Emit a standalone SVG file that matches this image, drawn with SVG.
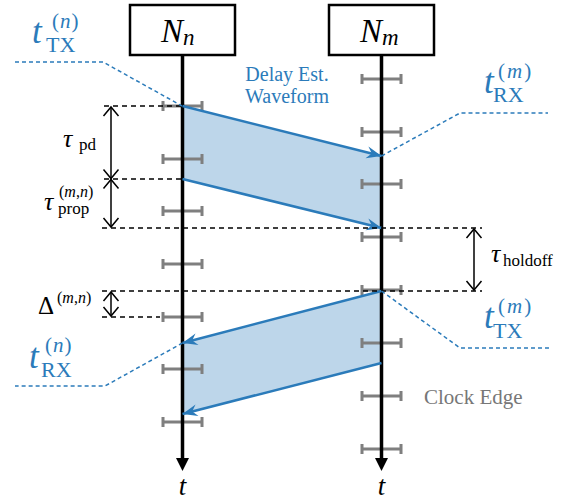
<svg xmlns="http://www.w3.org/2000/svg" width="566" height="502" viewBox="0 0 566 502">
<defs>
<marker id="bh" markerUnits="userSpaceOnUse" markerWidth="20" markerHeight="20" viewBox="-16 -8 20 16" refX="0" refY="0" orient="auto">
<path d="M0,0 L-15,-6 L-10,0 L-15,6 Z" fill="#2b7bba"/>
</marker>
<marker id="ch" markerUnits="userSpaceOnUse" markerWidth="20" markerHeight="20" viewBox="-12 -10 14 20" refX="0" refY="0" orient="auto-start-reverse">
<path d="M-9,-7.5 L0,0 L-9,7.5" fill="none" stroke="#000" stroke-width="1.5"/>
</marker>
</defs>
<style>
.box{fill:#fff;stroke:#000;stroke-width:2.5}
.axis{stroke:#000;stroke-width:3.5;fill:none}
.tick{stroke:#7f7f7f;stroke-width:3;fill:none}
.fill{fill:#bdd6ea;stroke:none}
.wave{stroke:#2b7bba;stroke-width:2.5;fill:none;marker-end:url(#bh)}
.dash{stroke:#000;stroke-width:1.5;stroke-dasharray:5 4;fill:none}
.lead{stroke:#2b7bba;stroke-width:1.5;stroke-dasharray:4 3;fill:none}
.dim{stroke:#000;stroke-width:1.5;fill:none;marker-start:url(#ch);marker-end:url(#ch)}
text{font-family:"Liberation Serif","Times New Roman",serif}
.blue{fill:#2b7bba}
.it{font-style:italic}
.gray{fill:#777}
</style>

<g id="waveforms">
<polygon class="fill" points="182.5,106 381.5,156 381.5,228 182.5,179"/>
<polygon class="fill" points="381.5,291 182.5,343 182.5,414 381.5,363"/>
</g>

<g id="clock-edges">
<path class="tick" d="M163,106h39M163,101v10M202,101v10"/>
<path class="tick" d="M163,159h39M163,154v10M202,154v10"/>
<path class="tick" d="M163,211h39M163,206v10M202,206v10"/>
<path class="tick" d="M163,264h39M163,259v10M202,259v10"/>
<path class="tick" d="M163,317h39M163,312v10M202,312v10"/>
<path class="tick" d="M163,369h39M163,364v10M202,364v10"/>
<path class="tick" d="M163,422h39M163,417v10M202,417v10"/>
<path class="tick" d="M362,79h39M362,74v10M401,74v10"/>
<path class="tick" d="M362,132h39M362,127v10M401,127v10"/>
<path class="tick" d="M362,184h39M362,179v10M401,179v10"/>
<path class="tick" d="M362,237h39M362,232v10M401,232v10"/>
<path class="tick" d="M362,290h39M362,285v10M401,285v10"/>
<path class="tick" d="M362,343h39M362,338v10M401,338v10"/>
<path class="tick" d="M362,396h39M362,391v10M401,391v10"/>
<path class="tick" d="M362,449h39M362,444v10M401,444v10"/>
</g>

<g id="node-Nn">
<rect class="box" x="130" y="5" width="105" height="50"/>
<text x="161" y="42" font-size="33" class="it">N<tspan font-size="23" dy="3">n</tspan></text>
<line class="axis" x1="182.5" y1="55" x2="182.5" y2="459"/>
<path d="M182.5,471 L176,458 L189,458 Z" fill="#000"/>
<text x="182.5" y="495" font-size="27" class="it" text-anchor="middle">t</text>
</g>

<g id="node-Nm">
<rect class="box" x="329" y="5" width="105" height="50"/>
<text x="360" y="42" font-size="33" class="it">N<tspan font-size="23" dy="3">m</tspan></text>
<line class="axis" x1="381.5" y1="55" x2="381.5" y2="459"/>
<path d="M381.5,471 L375,458 L388,458 Z" fill="#000"/>
<text x="381.5" y="495" font-size="27" class="it" text-anchor="middle">t</text>
</g>

<g id="connectors">
<line class="wave" x1="182.5" y1="106" x2="381.5" y2="156"/>
<line class="wave" x1="182.5" y1="179" x2="381.5" y2="228"/>
<line class="wave" x1="381.5" y1="291" x2="182.5" y2="343"/>
<line class="wave" x1="381.5" y1="363" x2="182.5" y2="414"/>
<path class="dash" d="M104,106H182"/>
<path class="dash" d="M104,179H182"/>
<path class="dash" d="M102,228H482"/>
<path class="dash" d="M102,291H482"/>
<path class="dash" d="M102,317H160"/>
<line class="dim" x1="111" y1="107" x2="111" y2="178.5"/>
<line class="dim" x1="111" y1="179.5" x2="111" y2="227"/>
<line class="dim" x1="474" y1="229" x2="474" y2="290"/>
<line class="dim" x1="111" y1="292" x2="111" y2="316"/>
<path class="lead" d="M15,62H103L182,106"/>
<path class="lead" d="M381.5,156L460,113H548"/>
<path class="lead" d="M381.5,291L460,348H550"/>
<path class="lead" d="M182.5,343L105,386H15"/>
</g>

<g id="labels">
<text x="287" y="81" font-size="20" class="blue" text-anchor="middle">Delay Est.</text>
<text x="287" y="103" font-size="20" class="blue" text-anchor="middle">Waveform</text>
<text x="424" y="404" font-size="21" class="gray">Clock Edge</text>

<text x="32" y="43" font-size="35" class="blue it">t</text>
<text x="46" y="52" font-size="22" class="blue">TX</text>
<text x="52" y="28" font-size="21" class="blue">(<tspan class="it" dx="1">n</tspan><tspan dx="1">)</tspan></text>

<text x="484" y="93" font-size="35" class="blue it">t</text>
<text x="493" y="102" font-size="22" class="blue">RX</text>
<text x="498" y="78" font-size="21" class="blue">(<tspan class="it" dx="2">m</tspan><tspan dx="2">)</tspan></text>

<text x="484" y="328" font-size="35" class="blue it">t</text>
<text x="493" y="338" font-size="22" class="blue">TX</text>
<text x="498" y="313" font-size="21" class="blue">(<tspan class="it" dx="2">m</tspan><tspan dx="2">)</tspan></text>

<text x="29" y="368" font-size="35" class="blue it">t</text>
<text x="41" y="377" font-size="22" class="blue">RX</text>
<text x="45" y="352" font-size="21" class="blue">(<tspan class="it" dx="1">n</tspan><tspan dx="1">)</tspan></text>

<text x="63" y="147" font-size="26" class="it">τ</text>
<text x="79" y="150" font-size="17">pd</text>

<text x="44" y="210" font-size="26" class="it">τ</text>
<text x="58" y="214" font-size="17">prop</text>
<text x="59" y="197" font-size="16">(<tspan class="it">m</tspan>,<tspan class="it">n</tspan>)</text>

<text x="491" y="262" font-size="26" class="it">τ</text>
<text x="503" y="266" font-size="17">holdoff</text>

<text x="38" y="314" font-size="25">Δ</text>
<text x="57" y="303" font-size="16">(<tspan class="it">m</tspan>,<tspan class="it">n</tspan>)</text>
</g>
</svg>
